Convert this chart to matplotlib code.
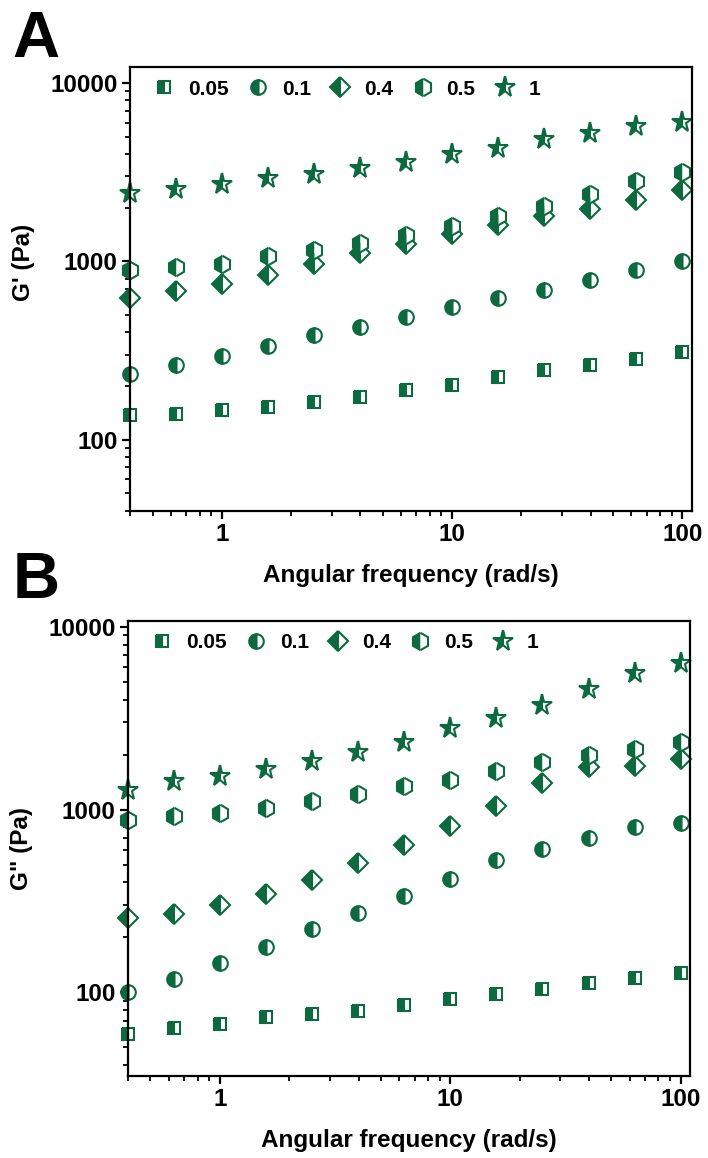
import numpy as np
import matplotlib
matplotlib.use('Agg')
import matplotlib.pyplot as plt
from matplotlib.ticker import LogLocator, NullFormatter, FixedLocator, FixedFormatter

plt.rcParams['font.family'] = ['Liberation Sans', 'DejaVu Sans']
plt.rcParams['font.weight'] = 'bold'

# angular frequency (rad/s), 5 points per decade
freq = [0.398, 0.631, 1.0, 1.585, 2.512, 3.981, 6.310, 10.0, 15.85, 25.12, 39.81, 63.10, 100.0]

labels = ['0.05', '0.1', '0.4', '0.5', '1']
markers = ['s', 'o', 'D', 'h', '*']
sizes = [9, 10.5, 10, 12.5, 15.5]

# G' (Pa)
g1_005 = [137, 139, 147, 152, 163, 174, 189, 203, 225, 246, 263, 284, 311]
g1_01 = [234, 263, 296, 336, 388, 430, 490, 558, 627, 696, 792, 901, 1000]
g1_04 = [627, 686, 752, 845, 962, 1109, 1250, 1419, 1595, 1792, 1963, 2206, 2512]
g1_05 = [901, 937, 974, 1067, 1153, 1263, 1400, 1575, 1792, 2040, 2385, 2823, 3175]
g1_1 = [2415, 2545, 2716, 2936, 3093, 3342, 3600, 4003, 4326, 4864, 5260, 5757, 6065]

# G'' (Pa)
g2_005 = [59, 64, 67, 73, 76, 79, 85, 92, 98, 105, 112, 120, 128]
g2_01 = [100, 119, 144, 178, 221, 271, 337, 419, 527, 607, 699, 805, 847]
g2_04 = [254, 268, 300, 345, 412, 508, 639, 815, 1053, 1394, 1711, 1738, 1895]
g2_05 = [882, 917, 963, 1026, 1108, 1214, 1342, 1449, 1626, 1824, 1995, 2154, 2356]
g2_1 = [1287, 1426, 1521, 1667, 1845, 2072, 2356, 2783, 3162, 3735, 4583, 5623, 6310]

green = '#0c6a3e'

fig = plt.figure(figsize=(7.08, 11.58), dpi=100)
axA = fig.add_axes([0.184, 0.559, 0.793, 0.383])
axB = fig.add_axes([0.181, 0.071, 0.794, 0.393])

panels = [
    (axA, [g1_005, g1_01, g1_04, g1_05, g1_1], "G' (Pa)", (40, 12300), 'A', 0.951, 0.56),
    (axB, [g2_005, g2_01, g2_04, g2_05, g2_1], 'G" (Pa)', (35, 10800), 'B', 0.484, 0.5),
]

for ax, series, ylab, ylim, letter, ly, ylab_y in panels:
    for vals, lab, m, ms in zip(series, labels, markers, sizes):
        ax.plot(freq, vals, linestyle='none', marker=m, markersize=ms,
                fillstyle='left', markerfacecolor=green, markerfacecoloralt='white',
                markeredgecolor=green, markeredgewidth=1.5, label=lab, clip_on=False)
    ax.set_xscale('log')
    ax.set_yscale('log')
    ax.set_xlim(0.4, 110)
    ax.set_ylim(*ylim)
    ax.xaxis.set_major_locator(FixedLocator([1, 10, 100]))
    ax.xaxis.set_major_formatter(FixedFormatter(['1', '10', '100']))
    ax.xaxis.set_minor_locator(LogLocator(base=10, subs=np.arange(2, 10)))
    ax.xaxis.set_minor_formatter(NullFormatter())
    ax.yaxis.set_major_locator(FixedLocator([100, 1000, 10000]))
    ax.yaxis.set_major_formatter(FixedFormatter(['100', '1000', '10000']))
    ax.yaxis.set_minor_locator(LogLocator(base=10, subs=np.arange(2, 10)))
    ax.yaxis.set_minor_formatter(NullFormatter())
    ax.tick_params(which='major', direction='out', length=6, width=1.6, labelsize=17.5, pad=3)
    ax.tick_params(which='minor', direction='out', length=3.5, width=1.3)
    for sp in ax.spines.values():
        sp.set_linewidth(1.6)
    ax.set_xlabel('Angular frequency (rad/s)', fontsize=17.5, fontweight='bold', labelpad=13)
    ax.set_ylabel(ylab, fontsize=17.5, fontweight='bold')
    ax.yaxis.set_label_coords(-0.17, ylab_y)
    ax.legend(loc='upper left', ncol=5, frameon=False, fontsize=15, markerscale=1.0,
              handlelength=1.0, handletextpad=0.65, columnspacing=0.9,
              bbox_to_anchor=(0.02, 1.0), borderaxespad=0.2)
    fig.text(0.018, ly, letter, fontsize=47, fontweight='bold', ha='left', va='baseline')

fig.savefig('out.png', dpi=100)
